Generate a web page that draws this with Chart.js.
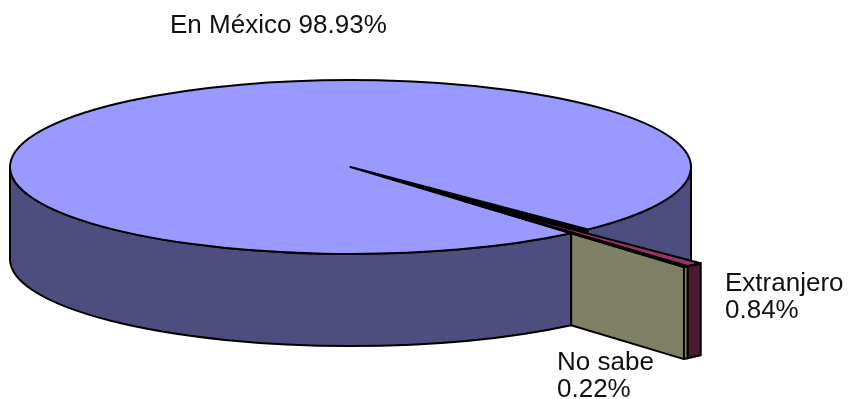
<!DOCTYPE html>
<html>
<head>
  <meta charset="utf-8">
  <title>Lugar de nacimiento</title>
  <script src="https://cdn.jsdelivr.net/npm/chart.js"></script>
  <style>
    html, body { margin: 0; padding: 0; background: #fff; }
  </style>
</head>
<body>
  <canvas id="pie" width="849" height="399"></canvas>

  <script>
    const labels = ['En México', 'Extranjero', 'No sabe'];
    const values = [98.93, 0.84, 0.22];
    const topColors = ['#9999FF', '#993366', '#FFFFCC'];
    const sideColors = ['#4D4D80', '#4D1A33', '#808066'];
    const exploded = [false, true, true];

    const TILT = 87 / 340.5;   // vertical squash of the top face
    const DEPTH = 92;          // thickness of the pie
    const EXPLODE = 174;       // pull-out of the small slices (before squash)
    // left x / first baseline of each slice label
    const labelPos = [[170, 33], [725, 291], [557, 370]];

    function center(chart) {
      const a = chart.chartArea;
      return { x: (a.left + a.right) / 2, y: (a.top + a.bottom) / 2 };
    }

    // pieces of [a, b] on the front half (the part you can see the side of)
    function frontParts(a, b) {
      const parts = [];
      for (let k = -2; k <= 2; k++) {
        const lo = Math.max(a, 2 * Math.PI * k), hi = Math.min(b, 2 * Math.PI * k + Math.PI);
        if (hi > lo) parts.push([lo, hi]);
      }
      return parts;
    }

    function wallPath(ctx, cx, cy, r, a, b) {
      ctx.beginPath();
      ctx.ellipse(cx, cy, r, r * TILT, 0, a, b);
      ctx.ellipse(cx, cy + DEPTH, r, r * TILT, 0, b, a, true);
      ctx.closePath();
    }

    // flat cut face of a slice at angle ang, from s0 to s1 out of its apex
    function facePath(ctx, cx, cy, ang, s0, s1) {
      const px = s => cx + Math.cos(ang) * s, py = s => cy + Math.sin(ang) * s * TILT;
      ctx.beginPath();
      ctx.moveTo(px(s0), py(s0));
      ctx.lineTo(px(s1), py(s1));
      ctx.lineTo(px(s1), py(s1) + DEPTH);
      ctx.lineTo(px(s0), py(s0) + DEPTH);
      ctx.closePath();
    }

    function drawSides(ctx, arcs, i, C) {
      const a = arcs[i], n = arcs.length;
      const cx = a.x, cy = C.y + (a.y - C.y) * TILT, r = a.outerRadius;
      const dx = a.x - C.x, dy = a.y - C.y, dist = Math.hypot(dx, dy);
      // where a cut face comes out from behind the rest of the pie
      const startOf = ang => {
        if (!dist) return 0;
        const ux = Math.cos(ang), uy = Math.sin(ang), du = dx * ux + dy * uy;
        const perp2 = dist * dist - du * du;
        return Math.max(0, -du + Math.sqrt(Math.max(0, r * r - perp2)));
      };
      // a face seen down the gap of the big slice is in shadow
      const faceFill = dist ? sideColors[i] : '#000';
      const next = (i + 1) % n, prev = (i - 1 + n) % n;
      if (exploded[next] !== exploded[i] && Math.cos(a.endAngle) > 0) {
        ctx.fillStyle = faceFill;
        facePath(ctx, cx, cy, a.endAngle, startOf(a.endAngle), r);
        ctx.fill(); ctx.stroke();
      }
      if (exploded[prev] !== exploded[i] && Math.cos(a.startAngle) < 0) {
        ctx.fillStyle = faceFill;
        facePath(ctx, cx, cy, a.startAngle, startOf(a.startAngle), r);
        ctx.fill(); ctx.stroke();
      }
      ctx.fillStyle = sideColors[i];
      frontParts(a.startAngle, a.endAngle).forEach(([lo, hi]) => {
        wallPath(ctx, cx, cy, r, lo, hi);
        ctx.fill(); ctx.stroke();
      });
    }

    function outlineTop(ctx, a, C) {
      const cx = a.x, cy = C.y + (a.y - C.y) * TILT, r = a.outerRadius;
      ctx.beginPath();
      ctx.moveTo(cx, cy);
      ctx.ellipse(cx, cy, r, r * TILT, 0, a.startAngle, a.endAngle);
      ctx.closePath();
      ctx.stroke();
    }

    const pie3d = {
      id: 'pie3d',
      afterDatasetUpdate(chart, args) {
        const arcs = args.meta.data.filter((a, i) => exploded[i]);
        if (!arcs.length) return;
        // slide the small slices out along their front cut edge,
        // so that face lines up with the edge of the big slice
        const dir = Math.max(...arcs.map(a => a.endAngle));
        arcs.forEach(a => {
          a.x += Math.cos(dir) * EXPLODE;
          a.y += Math.sin(dir) * EXPLODE;
        });
      },
      beforeDatasetsDraw(chart) {
        const ctx = chart.ctx, arcs = chart.getDatasetMeta(0).data, C = center(chart);
        ctx.save();
        ctx.lineWidth = 2;
        ctx.strokeStyle = '#000';
        ctx.lineJoin = 'round';
        arcs.forEach((a, i) => { if (!exploded[i]) drawSides(ctx, arcs, i, C); });
        ctx.restore();
        // squash the flat pie into an ellipse for the top faces
        ctx.save();
        ctx.translate(C.x, C.y);
        ctx.scale(1, TILT);
        ctx.translate(-C.x, -C.y);
      },
      afterDatasetsDraw(chart) {
        const ctx = chart.ctx, arcs = chart.getDatasetMeta(0).data, C = center(chart);
        ctx.restore();
        ctx.save();
        ctx.lineWidth = 2;
        ctx.strokeStyle = '#000';
        ctx.lineJoin = 'round';
        arcs.forEach((a, i) => { if (!exploded[i]) outlineTop(ctx, a, C); });
        arcs.forEach((a, i) => { if (exploded[i]) drawSides(ctx, arcs, i, C); });
        arcs.forEach((a, i) => { if (exploded[i]) outlineTop(ctx, a, C); });
        ctx.restore();
      }
    };

    const sliceLabels = {
      id: 'sliceLabels',
      afterDraw(chart) {
        const ctx = chart.ctx;
        ctx.save();
        ctx.font = '26px "Liberation Sans", Arial, sans-serif';
        ctx.fillStyle = '#111';
        ctx.textBaseline = 'alphabetic';
        labels.forEach((lab, i) => {
          const pct = values[i].toFixed(2) + '%';
          const [x, y] = labelPos[i];
          if (i === 0) {
            ctx.fillText(lab + ' ' + pct, x, y);
          } else {
            ctx.fillText(lab, x, y);
            ctx.fillText(pct, x, y + 27);
          }
        });
        ctx.restore();
      }
    };

    new Chart(document.getElementById('pie'), {
      type: 'pie',
      data: {
        labels: labels,
        datasets: [{
          data: values,
          backgroundColor: topColors,
          borderWidth: 0,
          clip: false
        }]
      },
      options: {
        responsive: false,
        animation: false,
        events: [],
        rotation: 139.6,
        radius: 340.5,
        layout: { padding: { left: 0, top: 0, right: 148, bottom: 65 } },
        plugins: {
          legend: { display: false },
          tooltip: { enabled: false }
        }
      },
      plugins: [pie3d, sliceLabels]
    });
  </script>
</body>
</html>
